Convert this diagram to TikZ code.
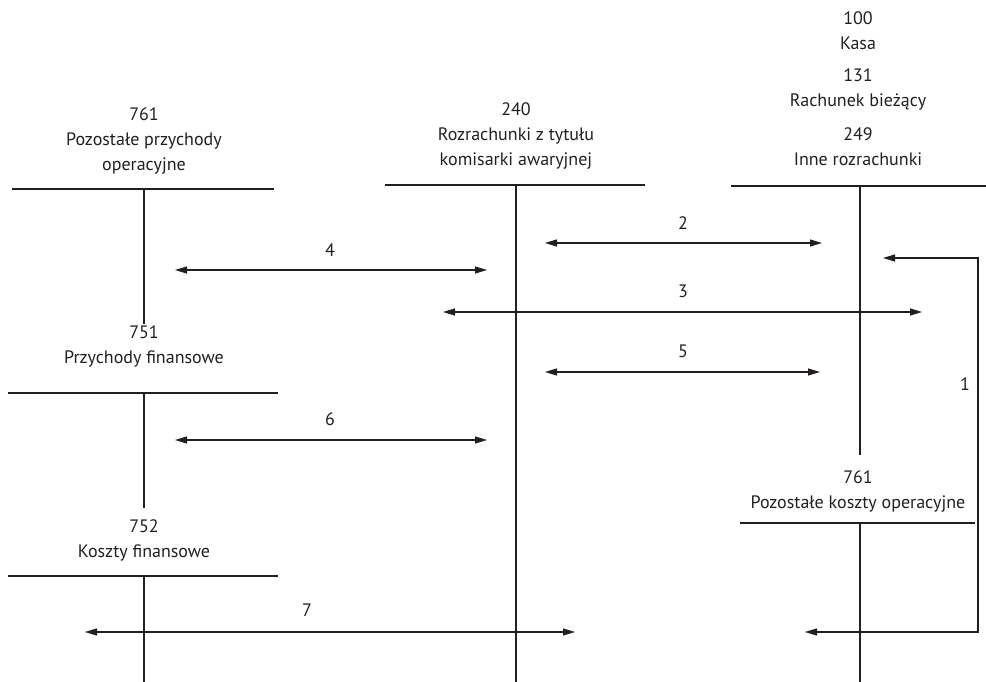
\documentclass[tikz,border=0pt]{standalone}
\usepackage{fontspec}
\setmainfont{PT Sans}
\usetikzlibrary{arrows.meta}
\definecolor{ink}{HTML}{231F20}
\begin{document}
\begin{tikzpicture}[x=1pt,y=-1pt,
  acct/.style={draw=ink,line width=1.1pt},
  label/.style={text=ink,align=center,inner sep=0pt,font=\fontsize{18}{25}\selectfont},
  num/.style={text=ink,inner sep=0pt,font=\fontsize{18}{20}\selectfont},
  both/.style={draw=ink,line width=1.1pt,{Triangle[length=12pt,width=7pt]}-{Triangle[length=12pt,width=7pt]}}]
\useasboundingbox (0,0) rectangle (986,682);

% account titles
\node[label] (t761a) at (144,141) {761\\Pozostałe przychody\\operacyjne};
\node[label] (t240) at (516,136) {240\\Rozrachunki z tytułu\\komisarki awaryjnej};
\node[label] (t100) at (858,31) {100\\Kasa};
\node[label] (t131) at (858,89) {131\\Rachunek bieżący};
\node[label] (t249) at (858,147) {249\\Inne rozrachunki};
\node[label] (t751) at (144,346) {751\\Przychody finansowe};
\node[label] (t752) at (144,540) {752\\Koszty finansowe};
\node[label] (t761b) at (858,491) {761\\Pozostałe koszty operacyjne};

% T-account frames
\coordinate (a1l) at (12,189);  \coordinate (a1r) at (274,189);
\coordinate (a1t) at (144,189); \coordinate (a1b) at (144,324);
\coordinate (a2l) at (385,185); \coordinate (a2r) at (645,185);
\coordinate (a2t) at (516,185); \coordinate (a2b) at (516,682);
\coordinate (a3l) at (731,186); \coordinate (a3r) at (986,186);
\coordinate (a3t) at (860,186); \coordinate (a3b) at (860,455);
\coordinate (a4l) at (8,393);   \coordinate (a4r) at (278,393);
\coordinate (a4t) at (144,393); \coordinate (a4b) at (144,508);
\coordinate (a5l) at (8,576);   \coordinate (a5r) at (278,576);
\coordinate (a5t) at (144,576); \coordinate (a5b) at (144,682);
\coordinate (a6l) at (740,523); \coordinate (a6r) at (975,523);
\coordinate (a6t) at (860,523); \coordinate (a6b) at (860,682);
\foreach \a in {a1,a2,a3,a4,a5,a6}{
  \draw[acct] (\a l) -- (\a r);
  \draw[acct] (\a t) -- (\a b);
}

% operations
\coordinate (p2a) at (545,243); \coordinate (p2b) at (822,243);
\coordinate (p4a) at (175,270); \coordinate (p4b) at (487,270);
\coordinate (p3a) at (443,312); \coordinate (p3b) at (922,312);
\coordinate (p5a) at (545,372); \coordinate (p5b) at (820,372);
\coordinate (p6a) at (175,440); \coordinate (p6b) at (487,440);
\coordinate (p7a) at (85,632);  \coordinate (p7b) at (575,632);
\draw[both] (p2a) -- (p2b);
\draw[both] (p4a) -- (p4b);
\draw[both] (p3a) -- (p3b);
\draw[both] (p5a) -- (p5b);
\draw[both] (p6a) -- (p6b);
\draw[both] (p7a) -- (p7b);

% operation 1: bracket on the right, both ends pointing left
\coordinate (p1c) at (978,258); \coordinate (p1e) at (883,258);
\coordinate (p1s) at (978,632); \coordinate (p1f) at (805,632);
\draw[both] (p1e) -- (p1c) -- (p1s) -- (p1f);

\node[num] (n1) at (965,384) {1};
\node[num] (n2) at (683,223) {2};
\node[num] (n3) at (683,291) {3};
\node[num] (n4) at (330,250) {4};
\node[num] (n5) at (683,351) {5};
\node[num] (n6) at (330,419) {6};
\node[num] (n7) at (307,610) {7};
\end{tikzpicture}
\end{document}
